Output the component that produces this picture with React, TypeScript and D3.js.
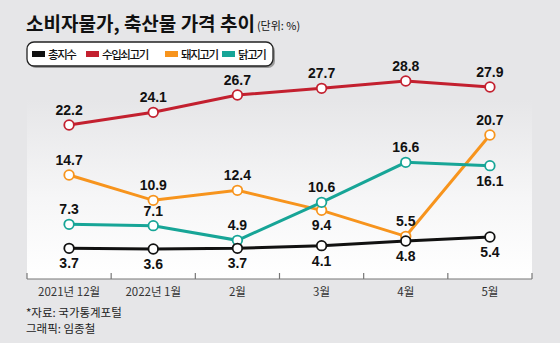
import React from "react";
import * as d3 from "d3";

const categories = ["2021년 12월", "2022년 1월", "2월", "3월", "4월", "5월"];
const seriesNames = ["총지수", "수입쇠고기", "돼지고기", "닭고기"];
const totalIndex = [3.7, 3.6, 3.7, 4.1, 4.8, 5.4];
const importedBeef = [22.2, 24.1, 26.7, 27.7, 28.8, 27.9];
const pork = [14.7, 10.9, 12.4, 9.4, 5.5, 20.7];
const chicken = [7.3, 7.1, 4.9, 10.6, 16.6, 16.1];
const colors = ["#111111", "#c3202f", "#f7941d", "#17a597"];
// label placement: 1 = above, -1 = below
const totalPos = [-1, -1, -1, -1, -1, -1];
const beefPos = [1, 1, 1, 1, 1, 1];
const porkPos = [1, 1, 1, -1, 1, 1];
const chickenPos = [1, 1, 1, 1, 1, -1];

const W = 560;
const H = 343;

export default function App() {
  const x = d3.scaleBand<string>().domain(categories).range([27, 532]).padding(0);
  const y = d3.scaleLinear().domain([0, 30]).range([273, 73]);
  const cx = (c: string) => (x(c) as number) + x.bandwidth() / 2;

  const series = [
    { name: seriesNames[1], values: importedBeef, color: colors[1], pos: beefPos },
    { name: seriesNames[2], values: pork, color: colors[2], pos: porkPos },
    { name: seriesNames[3], values: chicken, color: colors[3], pos: chickenPos },
    { name: seriesNames[0], values: totalIndex, color: colors[0], pos: totalPos },
  ];

  const line = d3
    .line<number>()
    .x((_, i) => cx(categories[i]))
    .y((d) => y(d));

  const ticks = [...categories.map((c) => x(c) as number), 532];
  const legendX = [32, 86, 165, 222];
  const font = "'Liberation Sans', Arial, sans-serif";
  const kfont = "'Noto Sans CJK KR', 'Noto Sans', sans-serif";

  return (
    <svg width={W} height={H} style={{ position: "absolute", left: 0, top: 0, display: "block" }}>
      <defs>
        <linearGradient id="panel" x1="0" y1="0" x2="0" y2="1">
          <stop offset="0" stopColor="#e6e6e8" />
          <stop offset="0.55" stopColor="#f6f6f7" />
          <stop offset="1" stopColor="#ffffff" />
        </linearGradient>
      </defs>
      <rect x={0} y={0} width={W} height={H} fill="#e6e6e8" />
      <rect x={27} y={100} width={505} height={179} fill="url(#panel)" />

      <text x={26} y={31} fontFamily={kfont} fontWeight={700} fontSize={19} fill="#111">
        소비자물가, 축산물 가격 추이
        <tspan fontSize={11} fontWeight={400} dx={2} dy={-1}>(단위: %)</tspan>
      </text>

      <rect x={29} y={44} width={246} height={24} rx={7} fill="#9a9a9a" />
      <rect x={27} y={42} width={246} height={24} rx={7} fill="#ffffff" stroke="#222" strokeWidth={1.3} />
      {seriesNames.map((n, i) => (
        <g key={n}>
          <rect x={legendX[i]} y={51} width={13} height={6} fill={colors[i]} />
          <text
            x={legendX[i] + 16}
            y={58.5}
            fontFamily={kfont}
            fontSize={11.5}
            fontWeight={500}
            letterSpacing={-1.4}
            fill="#111"
          >
            {n}
          </text>
        </g>
      ))}

      <line x1={27} x2={532} y1={279} y2={279} stroke="#777" strokeWidth={1.2} />
      {ticks.map((t, i) => (
        <line key={i} x1={t} x2={t} y1={279} y2={273} stroke="#777" strokeWidth={1.2} />
      ))}
      {categories.map((c) => (
        <text key={c} x={cx(c)} y={296} textAnchor="middle" fontFamily={kfont} fontSize={11.5} fill="#333">
          {c}
        </text>
      ))}

      {series.map((s) => (
        <g key={s.name}>
          <path d={line(s.values) as string} fill="none" stroke={s.color} strokeWidth={3} />
          {s.values.map((v, i) => (
            <circle key={i} cx={cx(categories[i])} cy={y(v)} r={4.8} fill="#fff" stroke={s.color} strokeWidth={1.8} />
          ))}
        </g>
      ))}
      {series.map((s) =>
        s.values.map((v, i) => (
          <text
            key={s.name + i}
            x={cx(categories[i])}
            y={s.pos[i] > 0 ? y(v) - 10 : y(v) + 20}
            textAnchor="middle"
            fontFamily={font}
            fontWeight={700}
            fontSize={14}
            fill="#111"
          >
            {v.toFixed(1)}
          </text>
        ))
      )}

      <text x={26} y={317} fontFamily={kfont} fontSize={11.5} fill="#222">
        *자료: 국가통계포털
      </text>
      <text x={26} y={333} fontFamily={kfont} fontSize={11.5} fill="#222">
        그래픽: 임종철
      </text>
    </svg>
  );
}
